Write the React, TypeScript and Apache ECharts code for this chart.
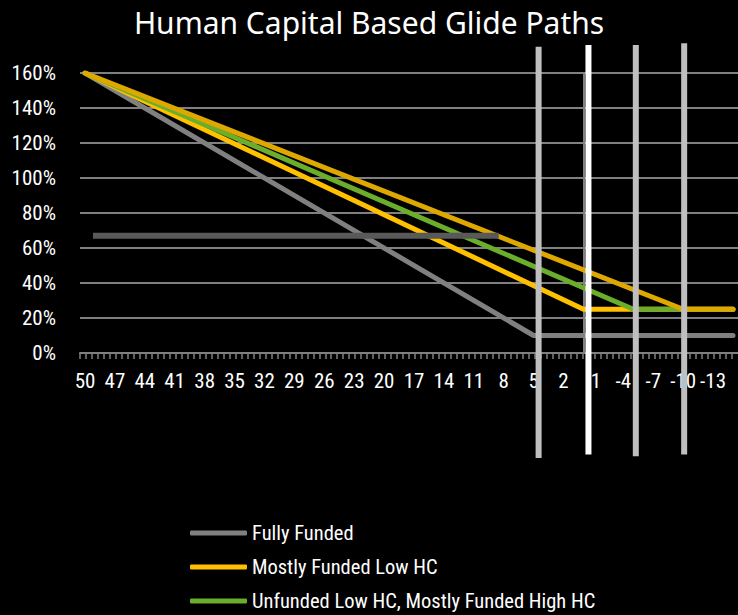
import { useEffect, useRef } from "react";
import * as echarts from "echarts";

// Years to retirement shown on the x axis (every third year)
const yearLabels = [50, 47, 44, 41, 38, 35, 32, 29, 26, 23, 20, 17, 14, 11, 8, 5, 2, -1, -4, -7, -10, -13];
const percentTicks = [0, 20, 40, 60, 80, 100, 120, 140, 160];

// Glide paths: [years to retirement, equity allocation %]
const fullyFunded = [[50, 160], [5, 10], [-15, 10]];
const mostlyFundedLowHC = [[50, 160], [0, 25], [-15, 25]];
const unfundedLowHC = [[50, 160], [-5, 25], [-15, 25]];
const unfundedHighHC = [[50, 160], [-10, 25], [-15, 25]];
const currentAllocation = [[49.2, 67], [8.5, 67]];

// Vertical reference markers
const markerYears = [4.5, -0.5, -5.25, -10.1];
const markerTop = [175, 176, 176, 177];
const markerBottom = [-60, -58, -59, -58];

const narrow = "'Roboto Condensed', 'Liberation Sans Narrow', 'DejaVu Sans Condensed', 'DejaVu Sans', sans-serif";

export default function App() {
  const ref = useRef<HTMLDivElement>(null);

  useEffect(() => {
    document.body.style.margin = "0";
    document.body.style.background = "#000";
    const css = document.createElement("style");
    css.textContent =
      'text[style*="Condensed"], text[font-family*="Condensed"] { font-stretch: condensed !important; }';
    document.head.appendChild(css);

    const chart = echarts.init(ref.current!, undefined, { renderer: "svg" });

    const tickValues: number[] = [];
    for (let v = 50.5; v >= -15.5; v -= 0.6) tickValues.push(Math.round(v * 100) / 100);

    const pathStyle = (color: string) => ({
      type: "line" as const,
      showSymbol: false,
      symbol: "none",
      lineStyle: { color, width: 5, cap: "round" as const, join: "round" as const },
      itemStyle: { color },
    });

    const markerColors = ["#BFBFBF", "#FFFFFF", "#BFBFBF", "#BFBFBF"];
    const markerSeries = markerYears.map((yr, i) => ({
      name: "marker" + i,
      type: "line" as const,
      symbol: "none",
      clip: false,
      z: 10,
      data: [[yr, markerTop[i]], [yr, markerBottom[i]]],
      lineStyle: { color: markerColors[i], width: 6, cap: "butt" as const },
    }));

    chart.setOption({
      animation: false,
      backgroundColor: "#000",
      title: {
        text: "Human Capital Based Glide Paths",
        left: "center",
        top: 2,
        textStyle: { color: "#fff", fontFamily: "'Noto Sans', sans-serif", fontSize: 30, fontWeight: "normal" },
      },
      grid: { left: 80, top: 73, width: 660, height: 280 },
      xAxis: {
        type: "value",
        inverse: true,
        min: -15.5,
        max: 50.5,
        splitLine: { show: false },
        axisLine: { lineStyle: { color: "#808080", width: 2 } },
        axisTick: { show: true, length: 6, customValues: tickValues, lineStyle: { color: "#808080", width: 1.5 } },
        axisLabel: {
          customValues: yearLabels,
          color: "#fff",
          fontFamily: narrow,
          fontSize: 21,
          margin: 17,
        },
      },
      yAxis: {
        type: "value",
        min: 0,
        max: 160,
        interval: 20,
        axisLine: { show: true, lineStyle: { color: "#808080", width: 2 } },
        axisTick: { show: true, length: 8, lineStyle: { color: "#808080", width: 2 } },
        splitLine: { lineStyle: { color: "#808080", width: 2 } },
        axisLabel: {
          customValues: percentTicks,
          formatter: (v: number) => v + "%",
          color: "#fff",
          fontFamily: narrow,
          fontSize: 21,
          margin: 24,
        },
      },
      legend: {
        data: ["Fully Funded", "Mostly Funded Low HC", "Unfunded Low HC, Mostly Funded High HC"],
        orient: "vertical",
        left: 190,
        top: 521,
        height: 140,
        padding: 0,
        icon: "roundRect",
        itemWidth: 57,
        itemHeight: 5,
        itemGap: 10,
        itemTextGap: 4,
        textStyle: { color: "#fff", fontFamily: narrow, fontSize: 20.5, lineHeight: 24 },
      },
      series: [
        { name: "Fully Funded", data: fullyFunded, ...pathStyle("#808080") },
        { name: "Mostly Funded Low HC", data: mostlyFundedLowHC, ...pathStyle("#FFC000") },
        { name: "Unfunded Low HC, Mostly Funded High HC", data: unfundedLowHC, ...pathStyle("#6BAE2C") },
        { name: "Unfunded High HC", data: unfundedHighHC, ...pathStyle("#DFA800") },
        {
          name: "Current Allocation",
          type: "line",
          symbol: "none",
          data: currentAllocation,
          lineStyle: { color: "#595959", width: 6, cap: "butt" },
        },
        ...markerSeries,
      ],
    });

    return () => {
      chart.dispose();
      css.remove();
    };
  }, []);

  return <div ref={ref} style={{ width: 738, height: 615, position: "fixed", left: 0, top: 0 }} />;
}
